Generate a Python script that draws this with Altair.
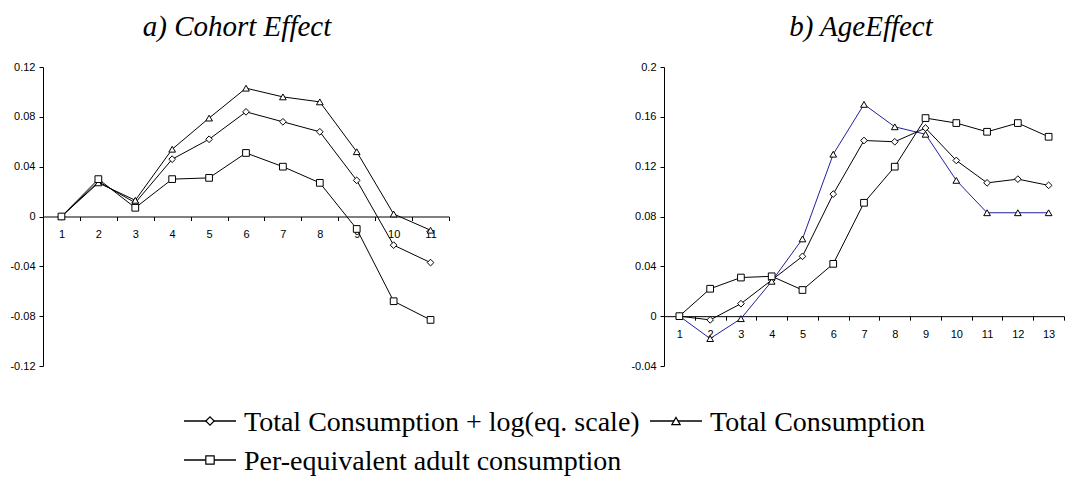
import altair as alt
import pandas as pd

SERIES = ["Total Consumption + log(eq. scale)", "Total Consumption", "Per-equivalent adult consumption"]
SHAPES = ["diamond", "triangle-up", "square"]

COHORT = list(range(1, 12))
COHORT_DIAMOND = [0, 0.028, 0.011, 0.046, 0.062, 0.084, 0.076, 0.068, 0.029, -0.023, -0.037]
COHORT_TRIANGLE = [0, 0.027, 0.013, 0.054, 0.079, 0.103, 0.096, 0.092, 0.052, 0.002, -0.011]
COHORT_SQUARE = [0, 0.030, 0.007, 0.030, 0.031, 0.051, 0.040, 0.027, -0.010, -0.068, -0.083]

AGE = list(range(1, 14))
AGE_DIAMOND = [0, -0.003, 0.010, 0.029, 0.048, 0.098, 0.141, 0.140, 0.151, 0.125, 0.107, 0.110, 0.105]
AGE_TRIANGLE = [0, -0.018, -0.002, 0.028, 0.062, 0.130, 0.170, 0.152, 0.146, 0.109, 0.083, 0.083, 0.083]
AGE_SQUARE = [0, 0.022, 0.031, 0.032, 0.021, 0.042, 0.091, 0.120, 0.159, 0.155, 0.148, 0.155, 0.144]

LEFT_TICKS = [-0.12, -0.08, -0.04, 0, 0.04, 0.08, 0.12]
RIGHT_TICKS = [-0.04, 0, 0.04, 0.08, 0.12, 0.16, 0.2]

TITLE_A = "a) Cohort Effect"
TITLE_B = "b) AgeEffect"

BLUE = "#1f1f9e"
LABEL_EXPR = "datum.value < 0 ? '-' + format(-datum.value, '~g') : format(datum.value, '~g')"


def long_df(xs, cols):
    rows = []
    for name, vals in zip(SERIES, cols):
        for x, v in zip(xs, vals):
            rows.append({"t": x, "v": v, "series": name})
    return pd.DataFrame(rows)


def panel(df, ticks, width, height, line_colors, title, dx):
    lo, hi = ticks[0], ticks[-1]
    zero_off = -height * (0 - lo) / (hi - lo)
    x = alt.X("t:O", scale=alt.Scale(type="band", paddingInner=0, paddingOuter=0),
              bandPosition=0.5,
              axis=alt.Axis(title=None, labelAngle=0, tickBand="extent", offset=zero_off,
                            labelPadding=8, tickSize=4, labelOverlap=False))
    y = alt.Y("v:Q", scale=alt.Scale(domain=[lo, hi], nice=False, zero=False),
              axis=alt.Axis(title=None, values=ticks, labelExpr=LABEL_EXPR, tickSize=4,
                            labelPadding=4, minExtent=35, maxExtent=35))
    base = alt.Chart(df)
    lines = base.mark_line(strokeWidth=1).encode(
        x=x, y=y,
        color=alt.Color("series:N", scale=alt.Scale(domain=SERIES, range=line_colors), legend=None),
    )
    pts = base.mark_point(filled=True, fill="white", stroke="black", strokeWidth=1, opacity=1, size=45).encode(
        x=x, y=y,
        shape=alt.Shape("series:N", scale=alt.Scale(domain=SERIES, range=SHAPES), legend=None),
    )
    return alt.layer(lines, pts).properties(
        width=width, height=height,
        title=alt.TitleParams(title, font="Liberation Serif", fontSize=29, fontStyle="italic",
                              fontWeight="normal", color="black", anchor="middle", dx=dx, offset=19),
    )


left = panel(long_df(COHORT, [COHORT_DIAMOND, COHORT_TRIANGLE, COHORT_SQUARE]), LEFT_TICKS,
             406, 299, ["black", "black", "black"], TITLE_A, -9)
right = panel(long_df(AGE, [AGE_DIAMOND, AGE_TRIANGLE, AGE_SQUARE]), RIGHT_TICKS,
              400, 299, ["black", BLUE, "black"], TITLE_B, -3)

top = alt.hconcat(left, right, spacing=179).resolve_scale(color="independent", shape="independent")


def legend_entry(x0, ybase, shape, label):
    d = pd.DataFrame({"label": [label]})
    c = alt.Chart(d)
    rule = c.mark_rule(color="black", strokeWidth=1.5).encode(
        x=alt.value(x0), x2=alt.value(x0 + 52), y=alt.value(ybase - 10))
    pt = c.mark_point(filled=True, fill="white", stroke="black", strokeWidth=1.2, opacity=1,
                      size=70, shape=shape).encode(x=alt.value(x0 + 26), y=alt.value(ybase - 10))
    txt = c.mark_text(align="left", baseline="alphabetic", font="Liberation Serif", fontSize=28,
                      color="black").encode(x=alt.value(x0 + 60), y=alt.value(ybase), text="label:N")
    return [rule, pt, txt]


leg_layers = []
leg_layers += legend_entry(141, 60, SHAPES[0], SERIES[0])
leg_layers += legend_entry(607, 60, SHAPES[1], SERIES[1])
leg_layers += legend_entry(141, 99, SHAPES[2], SERIES[2])
legend = alt.layer(*leg_layers).properties(width=980, height=102)

chart = alt.vconcat(top, legend, spacing=0).properties(
    padding={"left": 0, "top": 5, "right": 0, "bottom": 0}
).configure_view(stroke=None).configure_axis(
    grid=False, domainColor="black", tickColor="black", labelColor="black",
    labelFont="Liberation Sans", labelFontSize=11, domainWidth=1, tickWidth=1,
)

chart.save("out.html", embed_options={"renderer": "svg", "actions": False})
